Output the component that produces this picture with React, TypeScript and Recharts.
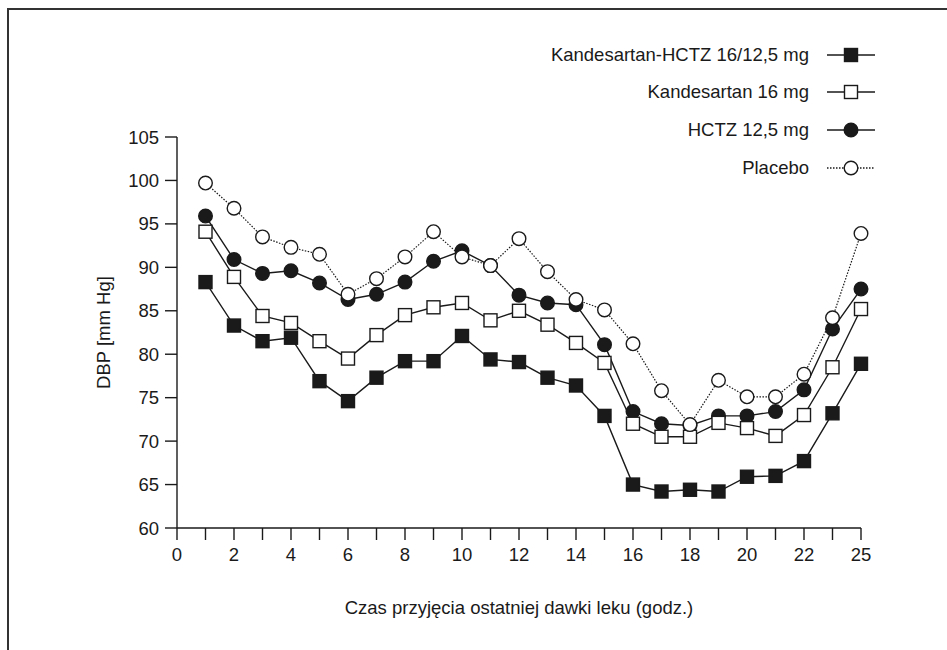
import React from 'react';
import { LineChart, Line, XAxis, YAxis, Label } from 'recharts';

// x slots on the axis (1..24); the last slot is hour 25
const slots = [1, 2, 3, 4, 5, 6, 7, 8, 9, 10, 11, 12, 13, 14, 15, 16, 17, 18, 19, 20, 21, 22, 23, 24];
const hours = ['1', '2', '3', '4', '5', '6', '7', '8', '9', '10', '11', '12', '13', '14', '15', '16', '17', '18', '19', '20', '21', '22', '23', '25'];

const kandHctz = [88.3, 83.3, 81.5, 81.9, 76.9, 74.6, 77.3, 79.2, 79.2, 82.1, 79.4, 79.1, 77.3, 76.4, 72.9, 65.0, 64.2, 64.4, 64.2, 65.9, 66.0, 67.7, 73.2, 78.9];
const kand = [94.1, 88.9, 84.4, 83.6, 81.5, 79.5, 82.2, 84.5, 85.4, 85.9, 83.9, 85.0, 83.4, 81.3, 79.0, 72.0, 70.5, 70.5, 72.1, 71.5, 70.6, 73.0, 78.5, 85.2];
const hctz = [95.9, 90.9, 89.3, 89.6, 88.2, 86.3, 86.9, 88.3, 90.7, 91.9, 90.2, 86.8, 85.9, 85.7, 81.1, 73.4, 72.0, 71.8, 72.9, 72.9, 73.4, 75.9, 82.9, 87.5];
const placebo = [99.7, 96.8, 93.5, 92.3, 91.5, 86.9, 88.7, 91.2, 94.1, 91.2, 90.2, 93.3, 89.5, 86.3, 85.1, 81.2, 75.8, 71.9, 77.0, 75.1, 75.1, 77.7, 84.2, 93.9];

const xTicks = [0, 1, 2, 3, 4, 5, 6, 7, 8, 9, 10, 11, 12, 13, 14, 15, 16, 17, 18, 19, 20, 21, 22, 23, 24];
const xTickLabels = ['0', '', '2', '', '4', '', '6', '', '8', '', '10', '', '12', '', '14', '', '16', '', '18', '', '20', '', '22', '', '25'];
const yTicks = [60, 65, 70, 75, 80, 85, 90, 95, 100, 105];

const seriesNames = ['Kandesartan-HCTZ 16/12,5 mg', 'Kandesartan 16 mg', 'HCTZ 12,5 mg', 'Placebo'];

const data = slots.map((s, i) => ({
  slot: s,
  hour: hours[i],
  kh: kandHctz[i],
  k: kand[i],
  h: hctz[i],
  p: placebo[i],
}));

const FONT = "'Liberation Sans', Arial, Helvetica, sans-serif";
const INK = '#1a1a1a';

const squareDot = (fill: string) => (props: any) => {
  const { cx, cy, index } = props;
  if (cx == null || cy == null) return <g key={`s${index}`} />;
  return (
    <rect key={`s${index}`} x={cx - 6.5} y={cy - 6.5} width={13} height={13} fill={fill} stroke={INK} strokeWidth={1.4} />
  );
};

const circleDot = (fill: string) => (props: any) => {
  const { cx, cy, index } = props;
  if (cx == null || cy == null) return <g key={`c${index}`} />;
  return <circle key={`c${index}`} cx={cx} cy={cy} r={6.8} fill={fill} stroke={INK} strokeWidth={1.4} />;
};

const LegendIcon = ({ kind }: { kind: number }) => (
  <svg width={50} height={16} style={{ display: 'block' }}>
    <line
      x1={0}
      y1={8}
      x2={48}
      y2={8}
      stroke={INK}
      strokeWidth={1.4}
      strokeDasharray={kind === 3 ? '1.5 1.5' : undefined}
    />
    {kind === 0 && <rect x={17.5} y={1.5} width={13} height={13} fill={INK} stroke={INK} strokeWidth={1.4} />}
    {kind === 1 && <rect x={17.5} y={1.5} width={13} height={13} fill="#fff" stroke={INK} strokeWidth={1.4} />}
    {kind === 2 && <circle cx={24} cy={8} r={6.8} fill={INK} stroke={INK} strokeWidth={1.4} />}
    {kind === 3 && <circle cx={24} cy={8} r={6.8} fill="#fff" stroke={INK} strokeWidth={1.4} />}
  </svg>
);

const legendRowsY = [55, 92, 130, 168];

export default function App() {
  return (
    <div style={{ position: 'fixed', left: 0, top: 0, width: 947, height: 650, overflow: 'hidden', background: '#fff' }}>
      <div
        style={{
          position: 'absolute',
          left: 7,
          top: 8,
          width: 980,
          height: 700,
          borderTop: '2px solid #333',
          borderLeft: '2px solid #333',
        }}
      />
      <div style={{ position: 'absolute', left: 0, top: 0 }}>
        <LineChart
          width={947}
          height={650}
          data={data}
          margin={{ top: 137, right: 86, bottom: 32, left: 117 }}
        >
          <XAxis
            dataKey="slot"
            type="number"
            domain={[0, 24]}
            ticks={xTicks}
            interval={0}
            tickFormatter={(v: number) => xTickLabels[v]}
            height={90}
            tickSize={12}
            tickMargin={8}
            stroke={INK}
            strokeWidth={1.4}
            tick={{ fill: INK, fontSize: 18.5, fontFamily: FONT }}
            tickLine={{ stroke: INK, strokeWidth: 1.4 }}
          >
            <Label
              value="Czas przyjęcia ostatniej dawki leku (godz.)"
              position="insideBottom"
              offset={4}
              style={{ fill: INK, fontSize: 18.5, fontFamily: FONT }}
            />
          </XAxis>
          <YAxis
            type="number"
            domain={[60, 105]}
            ticks={yTicks}
            interval={0}
            width={60}
            tickSize={12}
            tickMargin={6}
            stroke={INK}
            strokeWidth={1.4}
            tick={{ fill: INK, fontSize: 18.5, fontFamily: FONT }}
            tickLine={{ stroke: INK, strokeWidth: 1.4 }}
          >
            <Label
              value="DBP [mm Hg]"
              angle={-90}
              position="center"
              dx={-44}
              style={{ fill: INK, fontSize: 18.5, fontFamily: FONT, textAnchor: 'middle' }}
            />
          </YAxis>
          <Line
            dataKey="h"
            name={seriesNames[2]}
            stroke={INK}
            strokeWidth={1.4}
            type="linear"
            dot={circleDot(INK)}
            activeDot={false}
            isAnimationActive={false}
          />
          <Line
            dataKey="k"
            name={seriesNames[1]}
            stroke={INK}
            strokeWidth={1.4}
            type="linear"
            dot={squareDot('#fff')}
            activeDot={false}
            isAnimationActive={false}
          />
          <Line
            dataKey="p"
            name={seriesNames[3]}
            stroke={INK}
            strokeWidth={1.2}
            strokeDasharray="1.5 1.5"
            type="linear"
            dot={circleDot('#fff')}
            activeDot={false}
            isAnimationActive={false}
          />
          <Line
            dataKey="kh"
            name={seriesNames[0]}
            stroke={INK}
            strokeWidth={1.4}
            type="linear"
            dot={squareDot(INK)}
            activeDot={false}
            isAnimationActive={false}
          />
        </LineChart>
      </div>
      {seriesNames.map((name, i) => (
        <div
          key={name}
          style={{
            position: 'absolute',
            right: 947 - 877,
            top: legendRowsY[i] - 12,
            height: 24,
            display: 'flex',
            alignItems: 'center',
            fontFamily: FONT,
            fontSize: 18.5,
            color: INK,
            whiteSpace: 'nowrap',
          }}
        >
          <span style={{ marginRight: 18 }}>{name}</span>
          <LegendIcon kind={i} />
        </div>
      ))}
    </div>
  );
}
